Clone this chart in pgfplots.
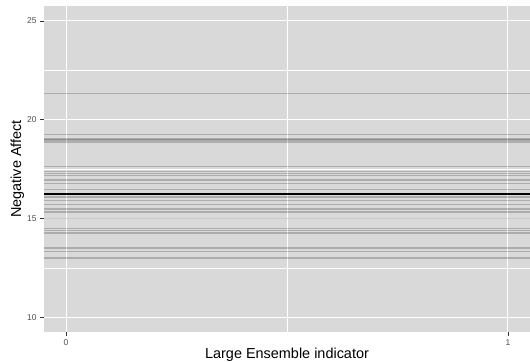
\documentclass[border=0pt]{standalone}
\usepackage{pgfplots}
\pgfplotsset{compat=1.18}
\usepackage{fontspec}
\setmainfont{Liberation Sans}
\definecolor{panelbg}{HTML}{D9D9D9}
\definecolor{ticklab}{HTML}{4D4D4D}
\definecolor{tickcol}{HTML}{333333}
\definecolor{hl}{HTML}{A9A9A9}
\tikzset{gl/.style={draw=black, draw opacity=0.2, line width=1.3bp, mark=none}}
\begin{document}
\begin{tikzpicture}
\begin{axis}[
  scale only axis,
  width=486bp, height=326bp,
  xmin=-0.05, xmax=1.05,
  ymin=9.25, ymax=25.75,
  axis line style={draw=none},
  axis background/.style={fill=panelbg},
  xtick={0,1}, ytick={10,15,20,25},
  minor xtick={0.5}, minor ytick={12.5,17.5,22.5},
  grid=both,
  major grid style={white, line width=1.1bp},
  minor grid style={white, line width=0.55bp},
  tick style={tickcol, line width=0.5bp},
  major tick length=4bp, minor tick length=0pt,
  tick align=outside,
  xtick pos=bottom, ytick pos=left,
  ticklabel style={font=\fontsize{8.5}{9}\selectfont, text=ticklab},
  /pgf/number format/assume math mode=true,
  xticklabels={0,1},
  xlabel={Large Ensemble indicator},
  ylabel={Negative Affect},
  label style={font=\fontsize{14.5}{16}\selectfont},
  xlabel style={yshift=4bp},
  ylabel style={yshift=-4bp},
  clip=true,
]
\addplot[gl] coordinates {(-0.05,21.33) (1.05,21.33)};
\addplot[gl] coordinates {(-0.05,19.24) (1.05,19.24)};
\addplot[gl] coordinates {(-0.05,19.02) (1.05,19.02)};
\addplot[gl] coordinates {(-0.05,18.97) (1.05,18.97)};
\addplot[gl] coordinates {(-0.05,18.87) (1.05,18.87)};
\addplot[gl] coordinates {(-0.05,17.62) (1.05,17.62)};
\addplot[gl] coordinates {(-0.05,17.36) (1.05,17.36)};
\addplot[gl] coordinates {(-0.05,17.27) (1.05,17.27)};
\addplot[gl] coordinates {(-0.05,17.18) (1.05,17.18)};
\addplot[gl] coordinates {(-0.05,16.94) (1.05,16.94)};
\addplot[gl] coordinates {(-0.05,16.77) (1.05,16.77)};
\addplot[gl] coordinates {(-0.05,16.47) (1.05,16.47)};
\addplot[gl] coordinates {(-0.05,16.08) (1.05,16.08)};
\addplot[gl] coordinates {(-0.05,15.89) (1.05,15.89)};
\addplot[gl] coordinates {(-0.05,15.69) (1.05,15.69)};
\addplot[gl] coordinates {(-0.05,15.50) (1.05,15.50)};
\addplot[gl] coordinates {(-0.05,15.44) (1.05,15.44)};
\addplot[gl] coordinates {(-0.05,15.32) (1.05,15.32)};
\addplot[gl] coordinates {(-0.05,14.98) (1.05,14.98)};
\addplot[gl] coordinates {(-0.05,14.49) (1.05,14.49)};
\addplot[gl] coordinates {(-0.05,14.40) (1.05,14.40)};
\addplot[gl] coordinates {(-0.05,14.30) (1.05,14.30)};
\addplot[gl] coordinates {(-0.05,14.24) (1.05,14.24)};
\addplot[gl] coordinates {(-0.05,13.50) (1.05,13.50)};
\addplot[gl] coordinates {(-0.05,13.33) (1.05,13.33)};
\addplot[gl] coordinates {(-0.05,12.99) (1.05,12.99)};
\addplot[black, line width=2bp, mark=none] coordinates {(-0.05,16.23) (1.05,16.23)};
\end{axis}
\pgfresetboundingbox
\path (-44bp,-30bp) rectangle (486bp,332bp);
\end{tikzpicture}
\end{document}
